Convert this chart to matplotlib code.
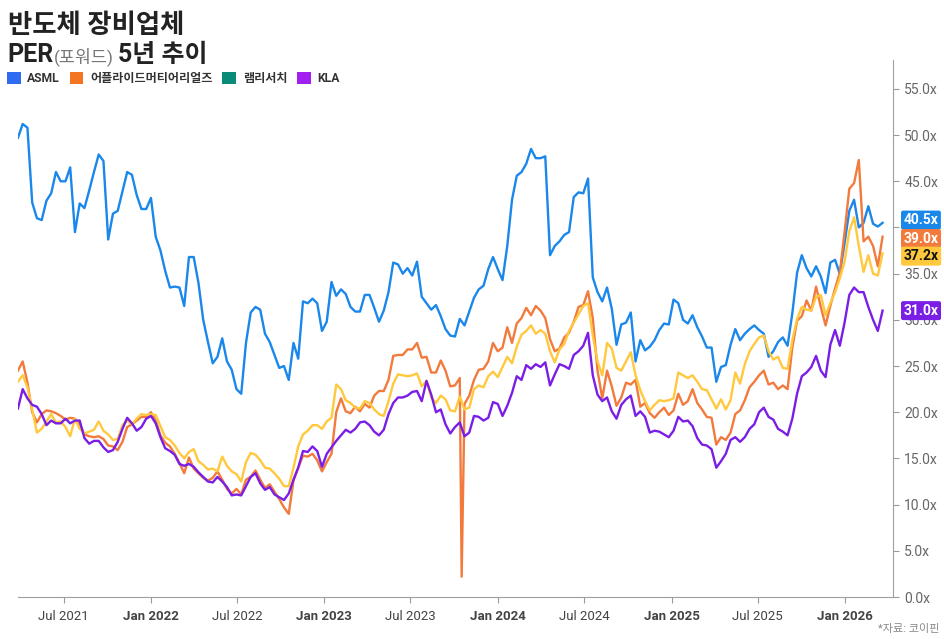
import numpy as np
import pandas as pd
import matplotlib
matplotlib.use("Agg")
import matplotlib.pyplot as plt
import matplotlib.transforms as mtransforms
from matplotlib.patches import Patch

plt.rcParams['font.family'] = ['Roboto', 'Noto Sans CJK KR', 'DejaVu Sans']

# 10-day samples
dates = pd.date_range('2021-03-27', periods=183, freq='10D')

asml = [49.7, 51.2, 50.8, 42.7, 41.0, 40.8, 42.9, 43.7, 46.0, 45.0,
        45.0, 46.5, 39.5, 42.6, 42.1, 44.0, 46.0, 47.9, 47.2, 38.7,
        41.5, 41.8, 43.9, 46.0, 45.7, 43.5, 42.0, 42.0, 43.2, 39.0,
        37.5, 35.3, 33.5, 33.6, 33.5, 31.5, 36.8, 36.8, 34.0, 30.0,
        27.6, 25.3, 26.0, 28.0, 25.5, 24.6, 22.5, 22.0, 27.5, 30.8,
        31.4, 31.1, 28.5, 27.6, 26.2, 24.8, 25.0, 23.5, 27.5, 25.8,
        32.0, 31.8, 32.3, 31.8, 28.8, 29.8, 34.1, 32.6, 33.3, 32.8,
        31.4, 30.9, 30.9, 32.7, 32.7, 31.3, 29.8, 31.0, 33.0, 36.2,
        36.0, 35.0, 35.6, 34.8, 36.3, 32.5, 31.8, 31.1, 31.6, 30.4,
        29.0, 28.3, 28.2, 30.1, 29.4, 30.9, 32.4, 33.3, 33.7, 35.5,
        36.8, 35.5, 34.3, 38.0, 43.0, 45.6, 46.0, 46.9, 48.5, 47.5,
        47.5, 47.7, 37.0, 38.0, 38.5, 39.2, 39.5, 43.3, 43.8, 43.7,
        45.3, 34.6, 33.0, 32.0, 33.5, 31.2, 27.3, 29.5, 29.7, 30.8,
        25.5, 27.8, 26.7, 27.1, 27.8, 28.9, 29.6, 29.5, 32.2, 31.8,
        30.0, 29.6, 30.5, 29.2, 28.2, 27.0, 27.0, 23.3, 24.9, 25.1,
        27.3, 29.0, 27.8, 28.5, 29.0, 29.4, 28.9, 28.5, 26.0, 26.6,
        27.6, 28.1, 27.2, 30.7, 35.1, 37.0, 35.6, 34.7, 35.8, 34.7,
        32.9, 36.2, 36.5, 35.0, 38.3, 41.8, 43.0, 40.0, 40.5, 42.3,
        40.4, 40.1, 40.5]

amat = [24.5, 25.5, 23.2, 20.0, 18.9, 19.8, 20.2, 20.1, 19.9, 19.6,
        19.2, 19.4, 19.3, 18.7, 17.6, 17.4, 17.3, 17.4, 17.1, 16.4,
        16.3, 15.9, 16.8, 18.4, 18.7, 19.1, 19.5, 19.5, 20.0, 19.1,
        17.5, 16.7, 16.3, 15.5, 14.5, 13.4, 15.1, 13.9, 13.4, 12.9,
        12.6, 12.9, 13.6, 12.7, 11.7, 11.2, 11.7, 11.1, 12.7, 13.0,
        13.7, 12.7, 11.8, 12.2, 11.4, 10.6, 9.7, 9.0, 12.6, 14.0,
        15.3, 15.2, 15.5, 14.8, 13.6, 14.6, 15.5, 20.0, 21.5, 20.1,
        19.9, 20.6, 20.1, 20.9, 20.5, 21.8, 22.3, 22.3, 23.5, 26.1,
        26.2, 26.2, 26.8, 26.8, 27.5, 25.9, 26.0, 24.3, 24.3, 25.6,
        24.5, 22.8, 22.9, 23.7, 20.9, 21.8, 23.5, 24.6, 24.7, 25.5,
        27.5, 26.6, 27.0, 29.2, 27.5, 29.6, 30.2, 31.3, 30.5, 31.5,
        31.0, 30.2, 27.9, 26.6, 26.9, 28.1, 28.6, 29.8, 31.4, 31.6,
        33.1, 30.2, 24.5, 21.5, 24.5, 22.8, 20.7, 21.6, 23.2, 23.0,
        23.5, 20.6, 21.0, 19.9, 19.4, 20.0, 20.5, 19.7, 20.2, 22.0,
        20.8, 21.2, 22.5, 21.0, 20.3, 19.5, 19.4, 16.5, 17.3, 17.0,
        17.8, 19.8, 20.2, 21.3, 22.7, 23.3, 24.0, 24.5, 23.0, 23.2,
        22.5, 22.9, 22.5, 27.0, 29.9, 30.4, 32.1, 31.0, 33.6, 31.4,
        29.4, 31.5, 33.4, 35.1, 39.5, 44.2, 44.8, 47.3, 38.5, 39.0,
        38.0, 35.8, 39.0]
# one-day data glitch in the AMAT series
amat_glitch_date = '2023-10-17'
amat_glitch_value = 2.2

lrcx = [23.3, 24.0, 22.7, 20.3, 17.8, 18.2, 19.0, 19.8, 18.9, 19.0,
        18.4, 17.4, 19.3, 18.2, 17.7, 17.9, 18.1, 19.0, 18.0, 17.6,
        17.0, 17.1, 18.6, 19.1, 18.7, 19.3, 19.8, 19.7, 19.8, 19.7,
        18.5, 17.3, 17.0, 16.4, 15.6, 15.0, 15.7, 16.0, 14.7, 14.3,
        13.8, 13.9, 13.6, 15.2, 14.2, 13.6, 13.3, 12.5, 14.6, 15.6,
        15.4, 14.8, 14.0, 13.9, 13.4, 12.8, 12.0, 12.0, 14.0, 16.3,
        17.6, 18.0, 18.6, 18.6, 18.2, 19.0, 19.4, 23.0, 22.5, 21.3,
        21.0, 20.5, 20.4, 21.2, 21.0, 20.3, 19.8, 19.6, 21.2, 23.1,
        24.1, 24.0, 23.9, 24.0, 24.2, 22.8, 23.4, 21.6, 21.0, 21.8,
        21.4, 20.2, 20.1, 21.7, 20.3, 20.5, 22.5, 22.9, 22.7, 23.9,
        24.4, 23.8, 24.9, 26.0, 25.3, 27.1, 28.4, 28.8, 29.4, 28.5,
        28.9, 28.5, 26.6, 25.4, 26.8, 27.4, 28.8, 29.7, 30.6, 31.5,
        31.8, 28.3, 25.5, 24.0, 27.5, 26.9, 24.8, 24.5, 25.5, 26.5,
        24.0, 22.4, 21.2, 20.2, 20.8, 21.3, 21.2, 21.3, 21.5, 24.3,
        24.0, 23.7, 24.0, 23.3, 22.5, 22.4, 21.4, 20.4, 21.4, 20.3,
        21.3, 24.3, 23.1, 25.2, 26.6, 27.4, 28.1, 28.3, 26.6, 25.7,
        26.0, 24.8, 24.7, 27.8, 30.1, 31.4, 31.1, 31.0, 32.5, 32.7,
        30.5, 31.8, 33.0, 34.5, 36.3, 39.6, 41.1, 38.0, 35.2, 37.0,
        35.0, 34.8, 37.2]

kla = [20.4, 22.5, 21.5, 20.8, 20.6, 19.8, 18.6, 19.1, 18.8, 18.8,
       19.3, 18.8, 19.1, 19.1, 17.2, 16.6, 16.9, 16.9, 16.2, 15.7,
       15.9, 16.8, 18.2, 19.4, 18.8, 18.0, 18.4, 19.3, 19.6, 18.8,
       17.3, 16.1, 15.8, 15.4, 14.4, 14.2, 14.4, 14.1, 13.5, 13.0,
       12.5, 12.4, 13.0, 12.5, 11.9, 11.0, 11.1, 11.0, 12.0, 13.0,
       13.4, 12.3, 11.6, 11.9, 11.1, 10.8, 10.5, 11.2, 12.7, 14.0,
       15.8, 15.7, 16.3, 15.8, 14.1, 15.5, 16.2, 16.9, 17.5, 18.1,
       17.8, 18.2, 18.9, 19.0, 18.6, 17.9, 17.5, 18.1, 19.8, 21.0,
       21.6, 21.6, 21.8, 22.2, 22.3, 21.2, 23.4, 21.9, 20.0, 20.3,
       18.7, 17.7, 18.4, 18.9, 17.4, 17.8, 19.6, 19.5, 19.1, 19.4,
       21.1, 20.9, 19.6, 20.7, 22.1, 23.9, 23.5, 25.1, 24.7, 25.2,
       24.9, 25.4, 22.9, 24.1, 25.2, 25.0, 24.7, 26.2, 26.6, 27.2,
       28.6, 24.0, 21.9, 21.2, 21.6, 20.1, 19.3, 20.8, 21.4, 21.8,
       19.6, 20.1, 19.5, 17.8, 18.0, 17.9, 17.6, 17.3, 18.0, 19.5,
       19.0, 19.1, 18.5, 17.2, 16.5, 16.4, 16.0, 14.0, 14.7, 15.5,
       17.0, 17.3, 16.8, 17.3, 18.2, 18.7, 20.0, 20.5, 19.5, 19.2,
       18.2, 17.9, 17.5, 19.3, 22.0, 23.9, 24.3, 24.9, 26.1, 24.5,
       23.8, 27.3, 28.9, 27.2, 29.7, 32.7, 33.5, 33.0, 33.0, 31.4,
       30.0, 28.8, 31.0]

names = ['ASML', '어플라이드머티어리얼즈', '램리서치', 'KLA']
line_colors = ['#1a87ea', '#f27a3c', '#ffc83d', '#7a1ee6']
legend_colors = ['#2f6bf0', '#f47421', '#0b8a78', '#a11ff0']
badge_text_colors = ['white', 'white', '#111111', 'white']
badge_nudge = [0.3, -0.2, -0.3, 0.0]   # small vertical shifts so badges do not collide

s_amat = pd.Series(amat, index=dates)
s_amat.loc[pd.Timestamp(amat_glitch_date)] = amat_glitch_value
s_amat = s_amat.sort_index()

series = [pd.Series(asml, index=dates), s_amat,
          pd.Series(lrcx, index=dates), pd.Series(kla, index=dates)]

fig = plt.figure(figsize=(9.44, 6.39), dpi=100)
ax = fig.add_axes([0.019, 0.0657, 0.927, 0.84])

for s, c in zip(series, line_colors):
    ax.plot(s.index, s.values, color=c, lw=1.7, solid_joinstyle='round')

ax.set_ylim(0, 58.1)
ax.set_xlim(pd.Timestamp('2021-03-27'), pd.Timestamp('2026-04-12'))

# right axis ticks
ax.yaxis.tick_right()
yt = np.arange(0, 56, 5)
ax.set_yticks(yt)
ax.set_yticklabels([f'{v:.1f}x' for v in yt])
ax.tick_params(axis='y', colors='#9a9a9a', labelcolor='#666666', labelsize=10,
               length=4, pad=4)

xt = pd.to_datetime(['2021-07-01', '2022-01-01', '2022-07-01', '2023-01-01',
                     '2023-07-01', '2024-01-01', '2024-07-01', '2025-01-01',
                     '2025-07-01', '2026-01-01'])
ax.set_xticks(xt)
ax.set_xticklabels([d.strftime('%b %Y') for d in xt])
ax.tick_params(axis='x', colors='#9a9a9a', labelcolor='#444444', labelsize=9.5,
               length=4, pad=5)
for lbl, d in zip(ax.get_xticklabels(), xt):
    if d.month == 1:
        lbl.set_fontweight('bold')

for side in ['top', 'left']:
    ax.spines[side].set_visible(False)
ax.spines['bottom'].set_color('#a0a0a0')
ax.spines['right'].set_color('#a0a0a0')

# end-value badges
trans = mtransforms.blended_transform_factory(ax.transAxes, ax.transData)
for s, c, tc, nd in zip(series, line_colors, badge_text_colors, badge_nudge):
    last = s.values[-1]
    ax.text(1.012, last + nd, f'{last:.1f}x', transform=trans, ha='left', va='center',
            fontsize=10, fontweight='bold', color=tc, clip_on=False, zorder=5,
            bbox=dict(boxstyle='round,pad=0.18,rounding_size=0.15', fc=c, ec='none'))

# title block
fig.text(0.008, 0.948, '반도체 장비업체', fontsize=19, fontweight='bold',
         color='#222222', va='baseline')
fig.canvas.draw()
r = fig.canvas.get_renderer()
y2 = 0.903
t1 = fig.text(0.008, y2, 'PER', fontsize=18, fontweight='bold', color='#222222',
              va='baseline')
bb = t1.get_window_extent(r)
t2 = fig.text(bb.x1 / fig.bbox.width, y2, '(포워드)', fontsize=12.5, color='#777777',
              va='baseline')
bb = t2.get_window_extent(r)
fig.text(bb.x1 / fig.bbox.width + 0.005, y2, '5년 추이', fontsize=18,
         fontweight='bold', color='#222222', va='baseline')

handles = [Patch(facecolor=c, edgecolor='none') for c in legend_colors]
leg = fig.legend(handles, names, loc='center left', bbox_to_anchor=(0.0, 0.877),
                 ncol=4, frameon=False, handlelength=1.15, handleheight=1.15,
                 handletextpad=0.55, columnspacing=0.8, borderaxespad=0.15,
                 prop={'size': 8.7, 'weight': 'bold'})
for t in leg.get_texts():
    t.set_color('#333333')

fig.text(0.995, 0.008, '*자료: 코이핀', fontsize=8, color='#888888', ha='right',
         va='bottom')

fig.savefig('out.png', dpi=100)
